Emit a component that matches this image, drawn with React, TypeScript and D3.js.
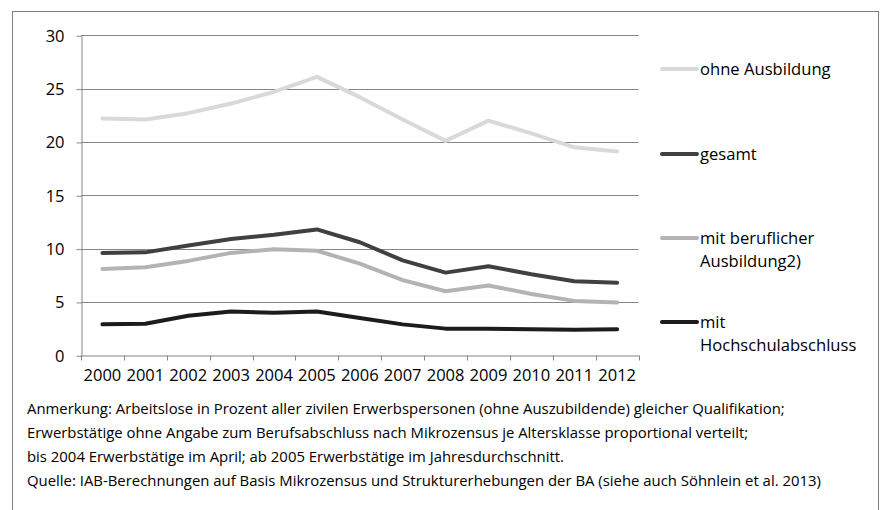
//@ts-nocheck
import React, { useRef, useEffect } from 'react'
import * as d3 from 'd3'

const years = ['2000', '2001', '2002', '2003', '2004', '2005', '2006', '2007', '2008', '2009', '2010', '2011', '2012']
const ohneAusbildung = [22.2, 22.1, 22.7, 23.6, 24.7, 26.1, 24.2, 22.1, 20.1, 22.0, 20.8, 19.5, 19.1]
const gesamt = [9.6, 9.65, 10.3, 10.9, 11.3, 11.8, 10.6, 8.9, 7.75, 8.35, 7.6, 6.95, 6.8]
const beruflich = [8.1, 8.25, 8.85, 9.6, 9.95, 9.8, 8.6, 7.05, 6.0, 6.55, 5.75, 5.1, 4.95]
const hochschul = [2.9, 2.95, 3.7, 4.1, 4.0, 4.1, 3.5, 2.9, 2.5, 2.5, 2.45, 2.4, 2.45]
const yTicks = [0, 5, 10, 15, 20, 25, 30]

const series = [
  { name: ['ohne Ausbildung'], values: ohneAusbildung, color: '#d9d9d9', legendY: 69 },
  { name: ['gesamt'], values: gesamt, color: '#404040', legendY: 154 },
  { name: ['mit beruflicher', 'Ausbildung2)'], values: beruflich, color: '#b3b3b3', legendY: 238 },
  { name: ['mit', 'Hochschulabschluss'], values: hochschul, color: '#1c1c1c', legendY: 322 }
]

const notes = [
  'Anmerkung: Arbeitslose in Prozent aller zivilen Erwerbspersonen (ohne Auszubildende) gleicher Qualifikation;',
  'Erwerbstätige ohne Angabe zum Berufsabschluss nach Mikrozensus je Altersklasse proportional verteilt;',
  'bis 2004 Erwerbstätige im April; ab 2005 Erwerbstätige im Jahresdurchschnitt.',
  'Quelle: IAB-Berechnungen auf Basis Mikrozensus und Strukturerhebungen der BA (siehe auch Söhnlein et al. 2013)'
]

const width = 884
const height = 510
const font = '"Open Sans", sans-serif'
const gridColor = '#868686'

export default function App() {
  const node = useRef(null)

  useEffect(() => {
    const svg = d3.select(node.current)
    svg.selectAll('*').remove()

    // outer frame (bottom edge is outside the picture)
    svg
      .append('rect')
      .attr('x', 12.5)
      .attr('y', 11.5)
      .attr('width', 866)
      .attr('height', 530)
      .attr('fill', 'none')
      .attr('stroke', '#7f7f7f')

    const x = d3.scaleBand().domain(years).range([81, 638.6])
    const y = d3.scaleLinear().domain([0, 30]).range([355.3, 35.3])

    // gridlines
    svg
      .append('g')
      .selectAll('line')
      .data(yTicks.filter((t) => t > 0))
      .join('line')
      .attr('x1', 81)
      .attr('x2', 638.6)
      .attr('y1', (d) => Math.round(y(d)) + 0.5)
      .attr('y2', (d) => Math.round(y(d)) + 0.5)
      .attr('stroke', gridColor)

    const yAxis = svg
      .append('g')
      .attr('transform', 'translate(81.5,0.5)')
      .call(d3.axisLeft(y).tickValues(yTicks).tickSize(5).tickPadding(12).tickSizeOuter(0))
    yAxis.select('.domain').attr('stroke', gridColor)
    yAxis.selectAll('.tick line').attr('stroke', gridColor)
    yAxis
      .selectAll('.tick text')
      .attr('font-family', font)
      .attr('font-size', 16.5)
      .attr('fill', '#000')

    const xAxis = svg
      .append('g')
      .attr('transform', `translate(0,${Math.round(y(0)) + 0.5})`)
      .call(d3.axisBottom(x).tickSize(0).tickPadding(14).tickSizeOuter(0))
    xAxis.select('.domain').attr('stroke', gridColor)
    xAxis
      .selectAll('.tick text')
      .attr('font-family', font)
      .attr('font-size', 16.5)
      .attr('fill', '#000')
    // tick marks at category boundaries
    xAxis
      .append('g')
      .selectAll('line')
      .data([...years, null])
      .join('line')
      .attr('x1', (d, i) => Math.round(81 + i * x.step()) + 0.5)
      .attr('x2', (d, i) => Math.round(81 + i * x.step()) + 0.5)
      .attr('y1', 0)
      .attr('y2', 5)
      .attr('stroke', gridColor)

    const line = d3
      .line()
      .x((d, i) => x(years[i]) + x.bandwidth() / 2)
      .y((d) => y(d))

    series.forEach((s) => {
      svg
        .append('path')
        .attr('d', line(s.values))
        .attr('fill', 'none')
        .attr('stroke', s.color)
        .attr('stroke-width', 4)
        .attr('stroke-linecap', 'round')
        .attr('stroke-linejoin', 'round')
    })

    // legend
    series.forEach((s) => {
      svg
        .append('line')
        .attr('x1', 662)
        .attr('x2', 697)
        .attr('y1', s.legendY)
        .attr('y2', s.legendY)
        .attr('stroke', s.color)
        .attr('stroke-width', 4)
        .attr('stroke-linecap', 'round')
      s.name.forEach((t, i) => {
        svg
          .append('text')
          .attr('x', 700)
          .attr('y', s.legendY + i * 23.5)
          .attr('dy', '0.35em')
          .attr('font-family', font)
          .attr('font-size', 16.6)
          .attr('fill', '#000')
          .text(t)
      })
    })

    // notes
    notes.forEach((t, i) => {
      svg
        .append('text')
        .attr('x', 27)
        .attr('y', 409 + i * 24)
        .attr('dy', '0.35em')
        .attr('font-family', font)
        .attr('font-size', 14.9)
        .attr('fill', '#000')
        .text(t)
    })
  }, [])

  return <svg ref={node} width={width} height={height} style={{ position: 'absolute', left: 0, top: 0, background: '#fff' }}></svg>
}
